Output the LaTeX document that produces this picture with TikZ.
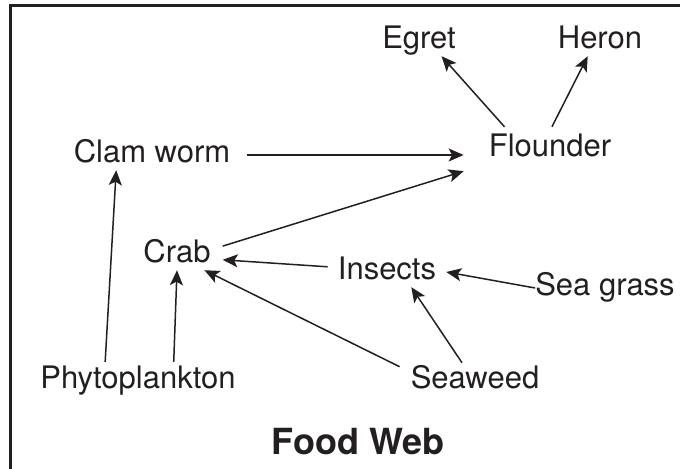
\documentclass[tikz,border=0pt]{standalone}
\usepackage{fontspec}
\setmainfont{TeX Gyre Heros}
\usetikzlibrary{arrows.meta}
\definecolor{ink}{HTML}{231F20}

\begin{document}
\begin{tikzpicture}[
  x=1bp, y=-1bp,
  >={Stealth[length=15bp, width=13bp, inset=3.5bp]},
  org/.style={inner sep=0pt, text height=23bp, text depth=7bp, font=\fontsize{31bp}{36bp}\selectfont, text=ink},
  arr/.style={->, line width=1.5bp, color=ink},
]
\useasboundingbox (0,0) rectangle (680,469);

% frame (top and left edge only)
\draw[ink, line width=3bp] (10,469) -- (10,5.5) -- (680,5.5);

\node[org] (egret) at (419,41) {Egret};
\node[org] (heron) at (600,41) {Heron};
\node[org, inner xsep=25bp, inner ysep=7bp] (flounder) at (550,149) {Flounder};
\node[org, inner xsep=17bp] (clamworm) at (152,155) {Clam worm};
\node[org, inner xsep=12bp] (crab) at (177,255) {Crab};
\node[org, inner xsep=10bp] (insects) at (387,272) {Insects};
\node[org] (seagrass) at (605,288) {Sea grass};
\node[org, inner ysep=3bp] (phyto) at (138,380) {Phytoplankton};
\node[org, inner xsep=11bp, inner ysep=2bp] (seaweed) at (475,380) {Seaweed};

\node[font=\fontsize{36bp}{40bp}\selectfont\bfseries, text=ink] (title) at (358,442) {Food Web};

\draw[arr] (clamworm.east) -- (clamworm.east -| flounder.west);
\draw[arr] (crab.11) -- (flounder.south west);
\draw[arr] (flounder.154) -- (egret.-34);
\draw[arr] (flounder.85) -- (heron.-129);
\draw[arr] (phyto.151) -- (clamworm.203);
\draw[arr] (phyto.27) -- (crab.south);
\draw[arr] (insects.175) -- (crab.-6);
\draw[arr] (seaweed.170) -- (crab.-29);
\draw[arr] (seaweed.127) -- (insects.-32);
\draw[arr] (seagrass.west) -- (insects.east);

\end{tikzpicture}
\end{document}
